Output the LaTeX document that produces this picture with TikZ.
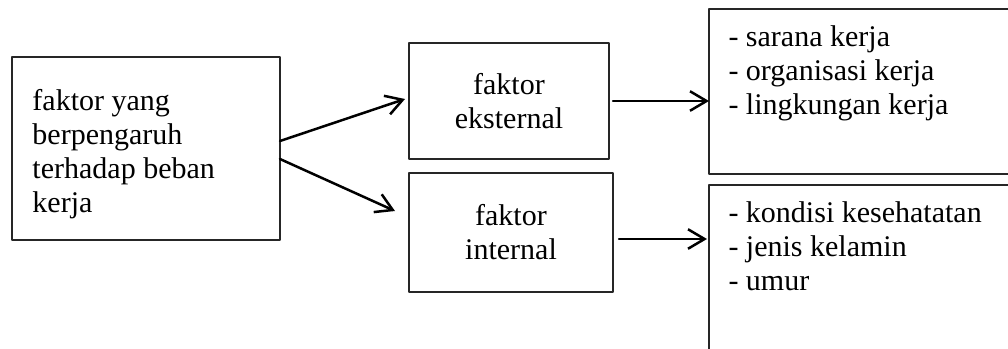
\documentclass[tikz,border=0pt]{standalone}
\usepackage{fontspec}
\setmainfont{Liberation Serif}
\usetikzlibrary{arrows.meta}
\begin{document}
\begin{tikzpicture}[x=0.4pt, y=-0.4pt, font=\fontsize{12}{13.6}\selectfont, line join=round, line cap=round,
	kotak/.style={draw=black!85, line width=0.5pt, inner sep=0pt, outer sep=0pt},
	teks/.style={inner sep=0pt, align=left, anchor=base west},
	panah/.style={line width=1pt, -{Straight Barb[length=6.6pt,width=7.8pt]}}]
	\useasboundingbox (0,0) rectangle (1008,348);
	\clip (0,0) rectangle (1008,348);
	% kotak utama (base = baris terakhir)
	\node[kotak, minimum width=107.2pt, minimum height=73.2pt] (beban) at (146,148.5) {};
	\node[teks] (bebanteks) at (32,212) {faktor yang\\berpengaruh\\terhadap beban\\kerja};
	% faktor
	\node[kotak, align=center, minimum width=80pt, minimum height=46.4pt] (eksternal) at (509,101) {faktor\\eksternal};
	\node[kotak, align=center, minimum width=81.6pt, minimum height=47.6pt] (internal) at (511,232.5) {faktor\\internal};
	% rincian
	\node[kotak, minimum width=128.4pt, minimum height=66pt] (rincianEks) at (869.5,91.5) {};
	\node[teks] (eksteks) at (728,114) {- sarana kerja\\- organisasi kerja\\- lingkungan kerja};
	\node[kotak, minimum width=128.4pt, minimum height=78pt] (rincianInt) at (869.5,282.5) {};
	\node[teks] (intteks) at (728,290) {- kondisi kesehatatan\\- jenis kelamin\\- umur};
	% panah
	\draw[panah] ([yshift=3pt]beban.east) -- ([shift={(-1.6pt,0.8pt)}]eksternal.west);
	\draw[panah] ([yshift=-4.2pt]beban.east) -- ([shift={(-5.6pt,8.6pt)}]internal.west);
	\draw[panah] ([xshift=1.6pt]eksternal.east) -- (eksternal.east -| rincianEks.west);
	\draw[panah] ([shift={(2.4pt,-2.6pt)}]internal.east) coordinate (ci) -- ([xshift=-0.8pt]ci -| rincianInt.west);
\end{tikzpicture}
\end{document}
